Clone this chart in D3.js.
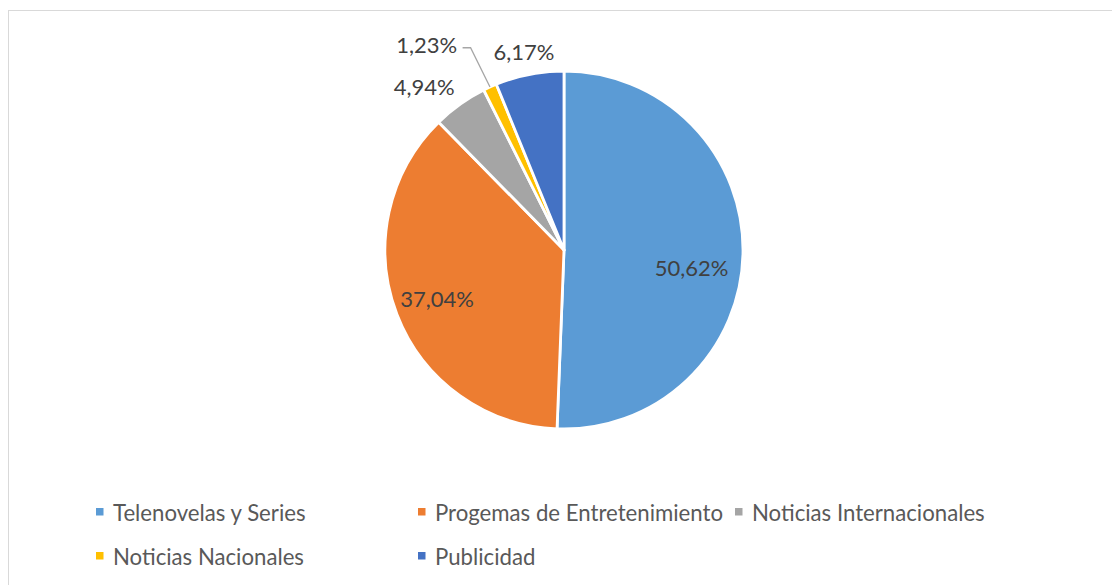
<!DOCTYPE html>
<html>
<head>
<meta charset="utf-8">
<script src="https://cdn.jsdelivr.net/npm/d3@7"></script>
<style>
  html, body { margin: 0; padding: 0; background: #fff; }
  svg { display: block; font-family: Lato, "Noto Sans", sans-serif; }
</style>
</head>
<body>
<svg id="chart" width="1112" height="585"></svg>
<script>
'use strict';

// data
var categories = ['Telenovelas y Series', 'Progemas de Entretenimiento', 'Noticias Internacionales', 'Noticias Nacionales', 'Publicidad'];
var shares = [50.62, 37.04, 4.94, 1.23, 6.17];
var colors = ['#5B9BD5', '#ED7D31', '#A5A5A5', '#FFC000', '#4472C4'];

var width = 1112,
    height = 585,
    cx = 564,
    cy = 250,
    radius = 179;

// label placement: radius factor and angle (deg, clockwise from top), null = use slice middle
var labelLayout = [
  {k: 0.72, a: 98},
  {k: 0.76, a: null},
  {k: 1.2, a: -40.6},
  {k: 1.38, a: -33.8, leader: true},
  {k: 1.13, a: -11.4}
];

var svg = d3.select('#chart');

// chart border
svg.append('rect')
  .attr('x', 8.5)
  .attr('y', 10.5)
  .attr('width', width)
  .attr('height', height)
  .attr('fill', 'none')
  .attr('stroke', '#d9d9d9')
  .attr('stroke-width', 1);

var pie = d3.pie().sort(null).value(function (d) { return d; });
var arc = d3.arc().innerRadius(0).outerRadius(radius);
var arcs = pie(shares);

var g = svg.append('g').attr('transform', 'translate(' + cx + ',' + cy + ')');

g.selectAll('path.slice')
  .data(arcs)
  .enter().append('path')
  .attr('class', 'slice')
  .attr('d', arc)
  .attr('fill', function (d, i) { return colors[i]; })
  .attr('stroke', '#fff')
  .attr('stroke-width', 2.8)
  .attr('stroke-linejoin', 'round');

function fmt(v) {
  return v.toFixed(2).replace('.', ',') + '%';
}

function polar(k, deg) {
  var t = deg * Math.PI / 180;
  return [radius * k * Math.sin(t), -radius * k * Math.cos(t)];
}

arcs.forEach(function (d, i) {
  var lay = labelLayout[i];
  var mid = (d.startAngle + d.endAngle) / 2 * 180 / Math.PI;
  var p = polar(lay.k, lay.a === null ? mid : lay.a);

  if (lay.leader) {
    var edge = polar(1, mid);
    g.append('polyline')
      .attr('points', [[p[0] + 36, p[1] + 3], [p[0] + 44, p[1] + 3], edge].join(' '))
      .attr('fill', 'none')
      .attr('stroke', '#a6a6a6')
      .attr('stroke-width', 1.3);
  }

  g.append('text')
    .attr('x', p[0])
    .attr('y', p[1])
    .attr('text-anchor', 'middle')
    .attr('dominant-baseline', 'central')
    .attr('font-size', 22)
    .attr('fill', '#404040')
    .text(fmt(shares[i]));
});

// legend, two rows like the reference
var legendX = [96, 418, 735];
var legendRows = [512, 556];

var legend = svg.append('g').attr('class', 'legend');
categories.forEach(function (name, i) {
  var col = i % 3,
      row = Math.floor(i / 3);
  var item = legend.append('g')
    .attr('transform', 'translate(' + legendX[col] + ',' + legendRows[row] + ')');
  item.append('rect')
    .attr('x', 0)
    .attr('y', -4)
    .attr('width', 7.5)
    .attr('height', 7.5)
    .attr('fill', colors[i]);
  item.append('text')
    .attr('x', 17)
    .attr('y', 0)
    .attr('dominant-baseline', 'central')
    .attr('font-size', 22.2)
    .attr('fill', '#595959')
    .text(name);
});
</script>
</body>
</html>
